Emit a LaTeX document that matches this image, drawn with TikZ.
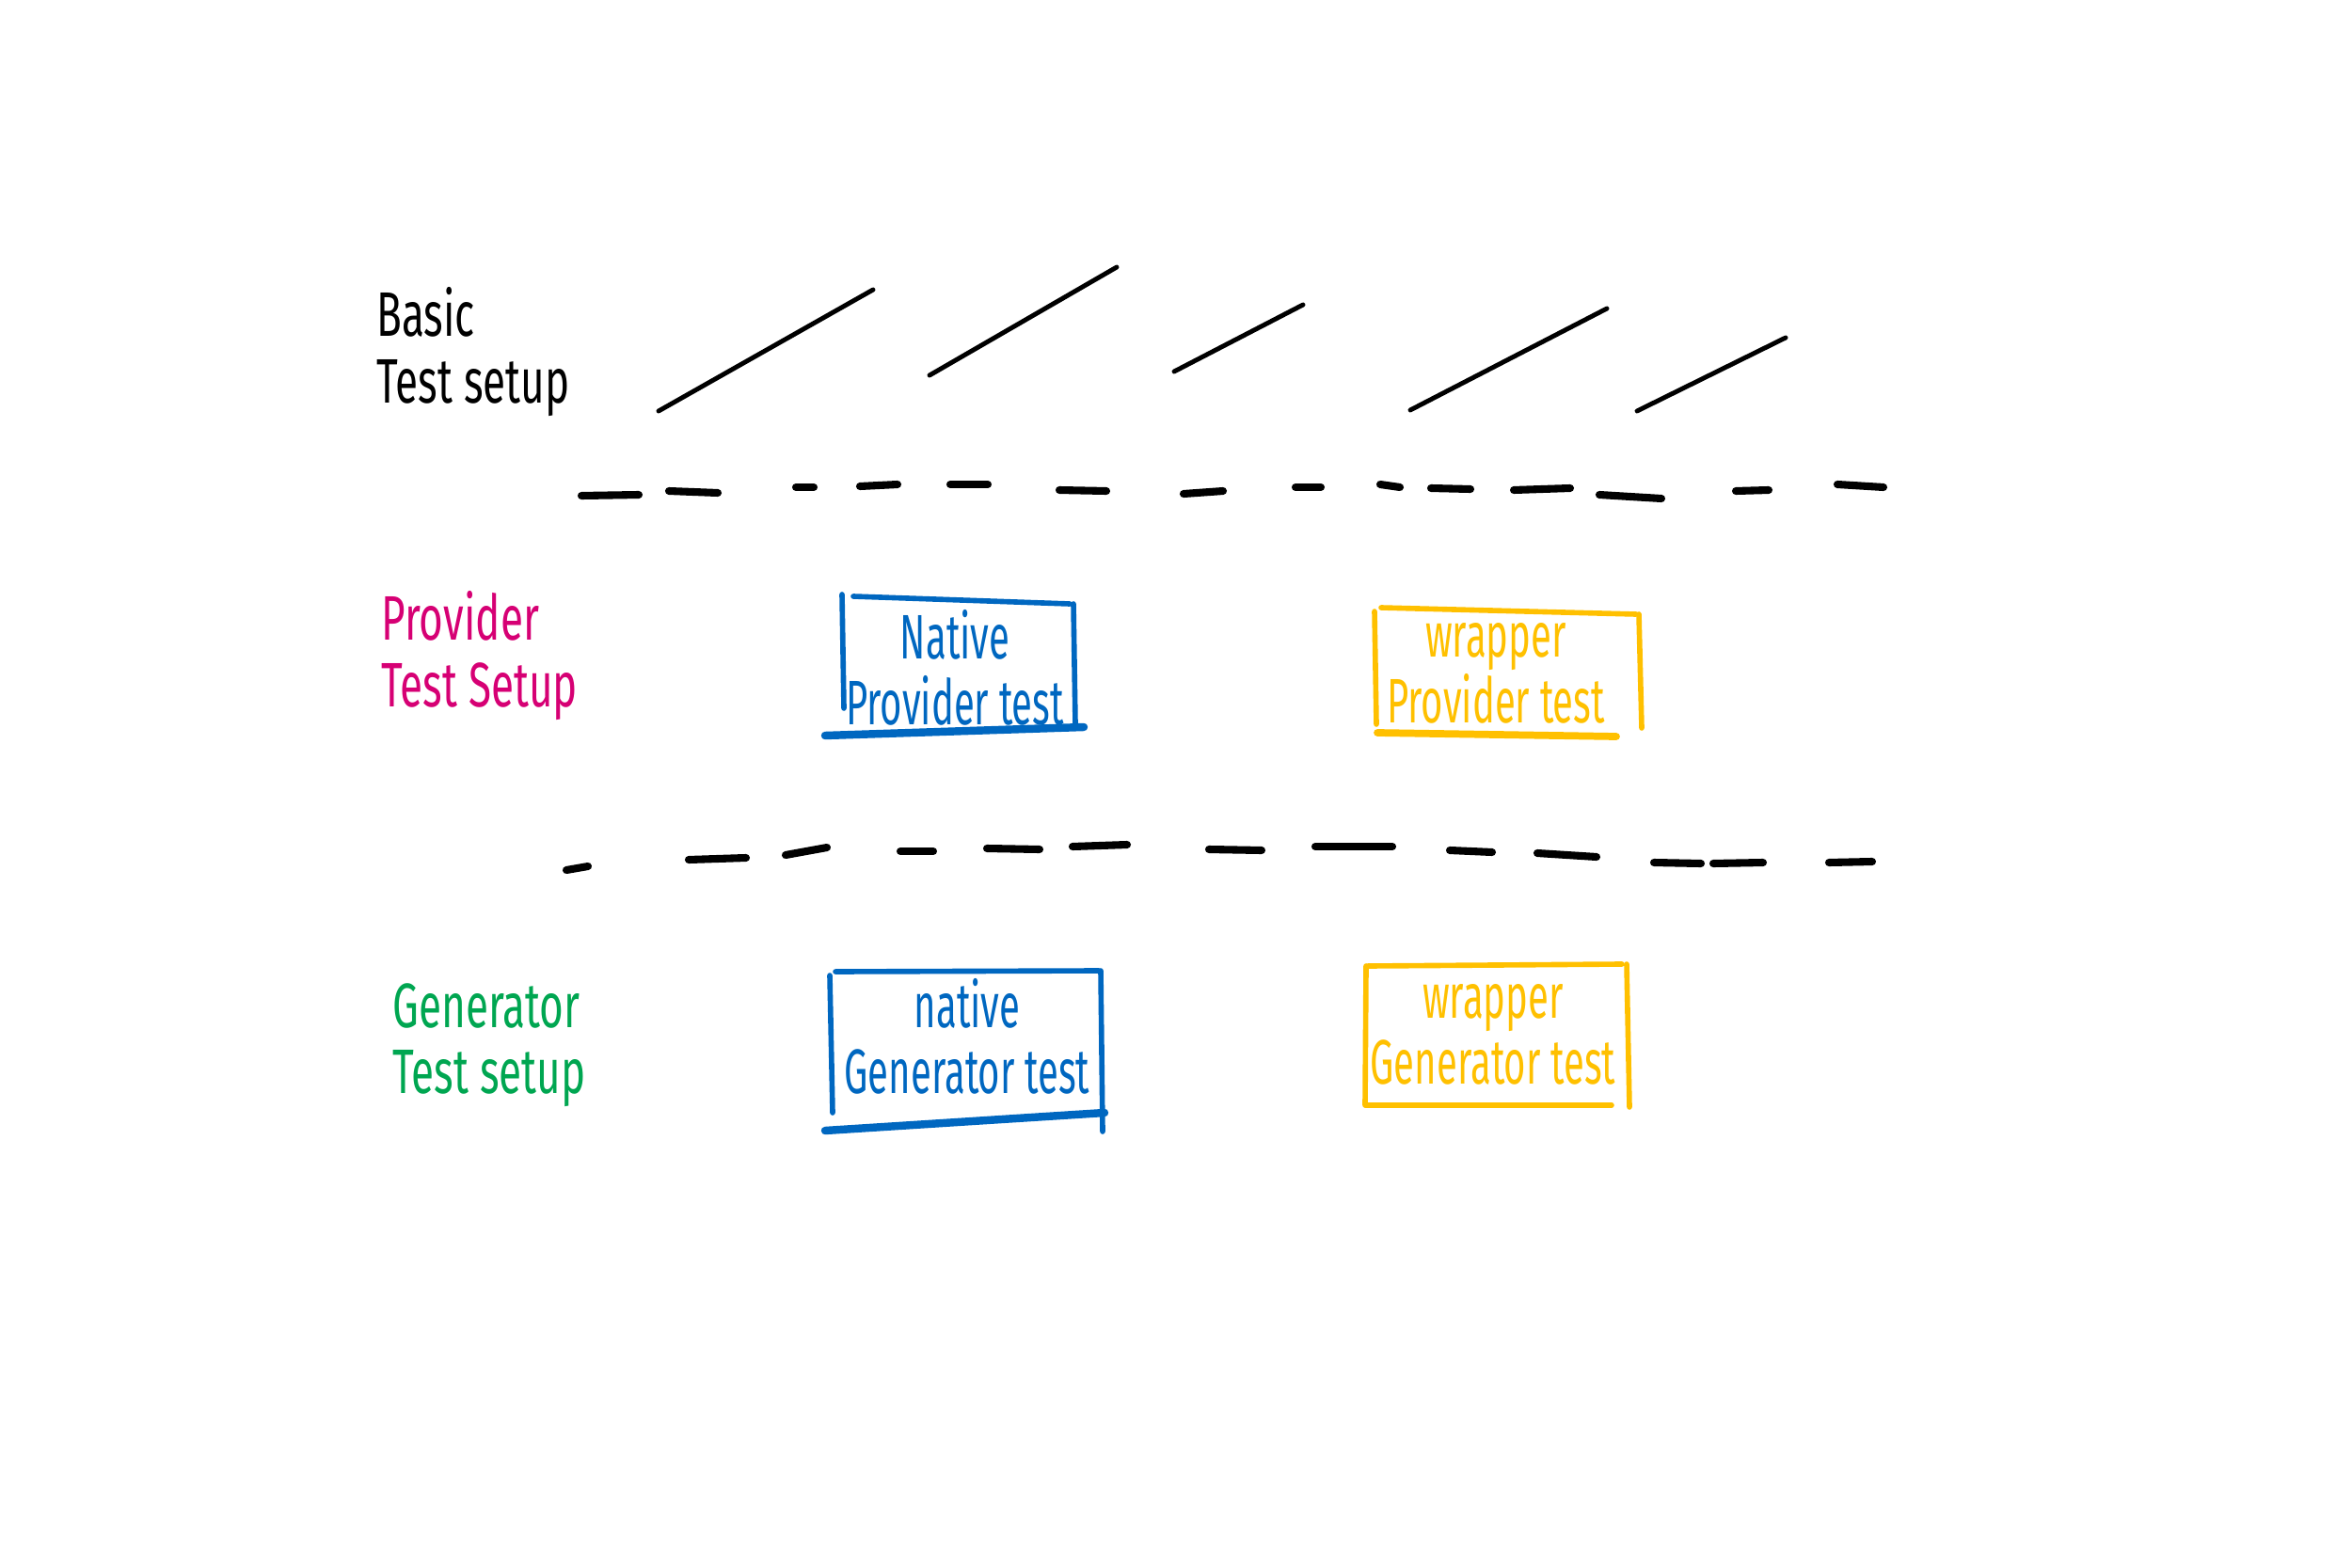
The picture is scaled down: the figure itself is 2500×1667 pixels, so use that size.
\documentclass[tikz,border=0pt]{standalone}
\usepackage{fontspec}
\setmainfont{Fira Sans}
\usetikzlibrary{positioning}
\definecolor{provmagenta}{RGB}{214,0,116}
\definecolor{natblue}{RGB}{0,103,192}
\definecolor{wrapyellow}{RGB}{255,192,0}
\definecolor{gengreen}{RGB}{0,166,81}

\begin{document}
\begin{tikzpicture}[x=0.01cm,y=-0.01cm]
            \tikzstyle{every node}+=[inner sep=0pt]
            \tikzstyle{hand}=[font=\fontsize{19}{20}\selectfont, xscale=0.6]
            \tikzstyle{rowlbl}=[hand, xscale=1.1, align=left, anchor=north west]
            \tikzstyle{stroke}=[line width=1.6pt, line cap=round]
            \tikzstyle{dashpiece}=[line width=2.3pt, line cap=round]
            \useasboundingbox (0,0) rectangle (2500,1667);
            % row labels
            \node [rowlbl] (basiclbl) at (400,305) {Basic\\Test setup};
            \node [rowlbl, text=provmagenta] (provlbl) at (405,628) {Provider\\Test Setup};
            \node [rowlbl, text=gengreen] (genlbl) at (417,1045) {Generator\\Test setup};
            % basic row strokes
            \foreach \xa/\ya/\xb/\yb in {700/437/928/308, 988/399/1187/284, 1248/395/1385/324, 1499/436/1708/328, 1740/437/1898/359}
                \draw [stroke, line width=1.4pt] (\xa,\ya) -- (\xb,\yb);
            % separators
            \foreach \xa/\ya/\xb/\yb in {618/527/679/526, 711/522/763/524, 846/518/865/518, 914/517/954/515, 1010/515/1050/515, 1126/521/1176/522, 1258/525/1300/522, 1377/518/1404/518, 1467/515/1488/518, 1521/519/1563/520, 1609/521/1669/519, 1700/526/1766/530, 1845/522/1880/521, 1953/515/2002/518}
                \draw [dashpiece] (\xa,\ya) -- (\xb,\yb);
            \foreach \xa/\ya/\xb/\yb in {602/925/625/921, 732/914/793/912, 835/909/879/901, 957/905/992/905, 1049/902/1105/903, 1140/900/1198/898, 1285/903/1341/904, 1398/900/1480/900, 1541/904/1586/906, 1634/907/1697/911, 1758/917/1808/918, 1821/918/1874/917, 1944/917/1990/916}
                \draw [dashpiece] (\xa,\ya) -- (\xb,\yb);
            % provider row
            \node [hand, align=center, text=natblue] (natprov) at (1015,710) {Native\\Provider test};
            \draw [stroke, natblue] (895,632) -- (897,753);
            \draw [stroke, natblue] (907,634) -- (1137,642);
            \draw [stroke, natblue] (1141,642) -- (1143,770);
            \draw [stroke, natblue, line width=2.4pt] (877,782) -- (1152,773);
            \node [hand, align=center, text=wrapyellow] (wrapprov) at (1590,716) {wrapper\\Provider test};
            \draw [stroke, wrapyellow] (1461,650) -- (1463,770);
            \draw [stroke, wrapyellow] (1468,646) -- (1739,653);
            \draw [stroke, wrapyellow] (1742,653) -- (1745,774);
            \draw [stroke, wrapyellow, line width=2.2pt] (1464,779) -- (1718,783);
            % generator row
            \node [hand, align=center, text=natblue] (natgen) at (1028,1102) {native\\Generator test};
            \draw [stroke, natblue] (882,1037) -- (885,1183);
            \draw [stroke, natblue] (888,1033) -- (1168,1032);
            \draw [stroke, natblue] (1170,1032) -- (1172,1203);
            \draw [stroke, natblue, line width=2.4pt] (877,1202) -- (1174,1183);
            \node [hand, align=center, text=wrapyellow] (wrapgen) at (1587,1100) {wrapper\\Generator test};
            \draw [stroke, wrapyellow] (1452,1027) -- (1451,1175);
            \draw [stroke, wrapyellow] (1454,1027) -- (1724,1025);
            \draw [stroke, wrapyellow] (1729,1025) -- (1732,1177);
            \draw [stroke, wrapyellow] (1452,1175) -- (1713,1175);
\end{tikzpicture}
\end{document}
